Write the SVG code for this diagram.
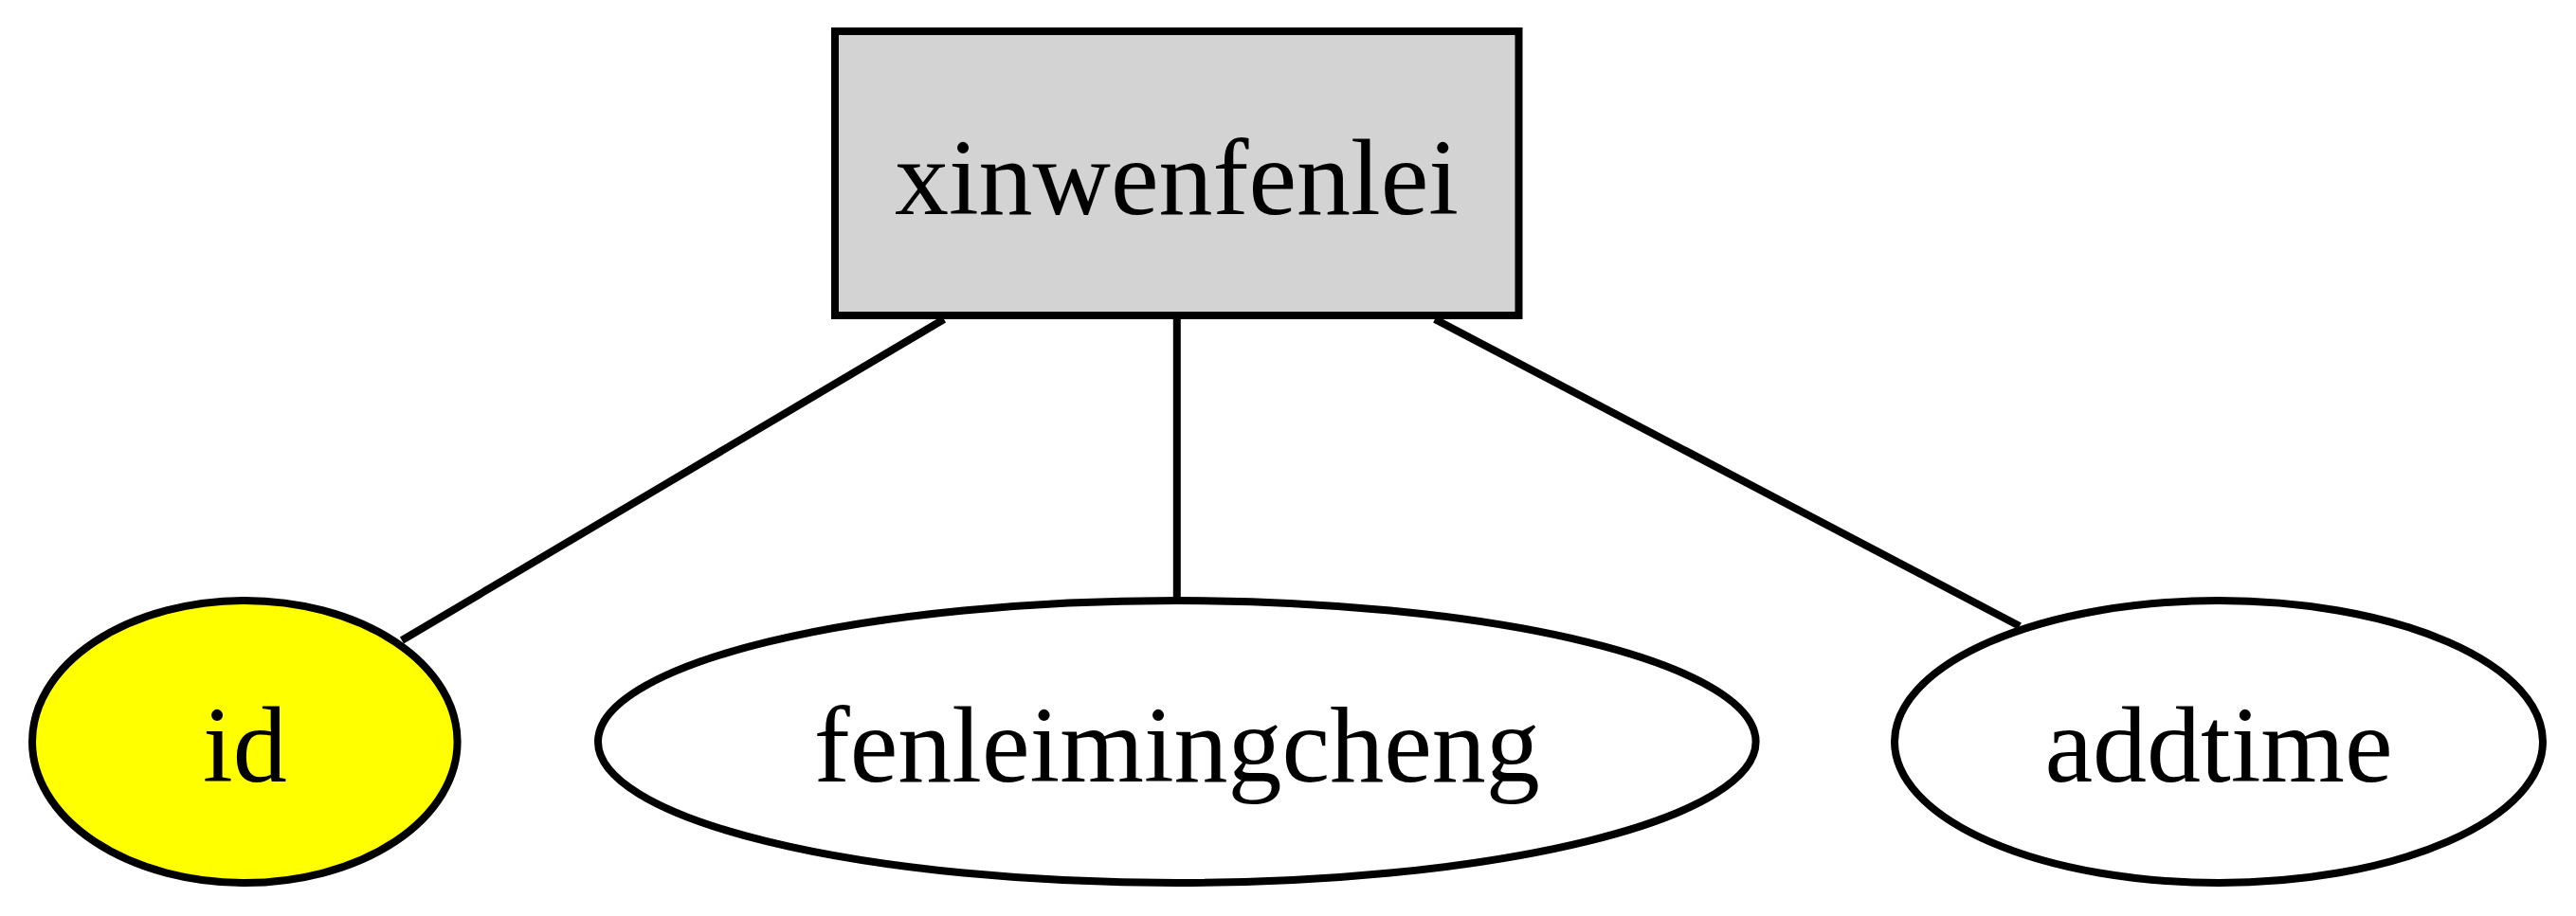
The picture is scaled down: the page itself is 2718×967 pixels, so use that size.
<svg xmlns="http://www.w3.org/2000/svg" width="2718" height="967" viewBox="0 0 2718 967">
<style>
.edge{stroke:#000;stroke-width:8;fill:none}
.shape{stroke:#000;stroke-width:8}
.lbl{font-family:"Liberation Serif","Times New Roman",serif;font-size:114px;fill:#000;text-anchor:middle}
</style>
<rect width="2718" height="967" fill="#fff"/>
<g id="connectors">
<line class="edge" x1="996" y1="337" x2="424" y2="676"/>
<line class="edge" x1="1241.8" y1="333" x2="1241.8" y2="634"/>
<line class="edge" x1="1514" y1="337" x2="2131" y2="661"/>
</g>
<g id="xinwenfenlei">
<rect class="shape" x="881" y="33" width="721.5" height="300" fill="#d3d3d3"/>
<text class="lbl" x="1241.5" y="226">xinwenfenlei</text>
</g>
<g id="id">
<ellipse class="shape" cx="258.3" cy="783" rx="224.3" ry="149" fill="#ffff00"/>
<text class="lbl" x="258.3" y="825">id</text>
</g>
<g id="fenleimingcheng">
<ellipse class="shape" cx="1241.8" cy="783" rx="610.8" ry="149" fill="#fff"/>
<text class="lbl" x="1241.8" y="825">fenleimingcheng</text>
</g>
<g id="addtime">
<ellipse class="shape" cx="2341" cy="783" rx="342" ry="149" fill="#fff"/>
<text class="lbl" x="2341" y="825">addtime</text>
</g>
</svg>
